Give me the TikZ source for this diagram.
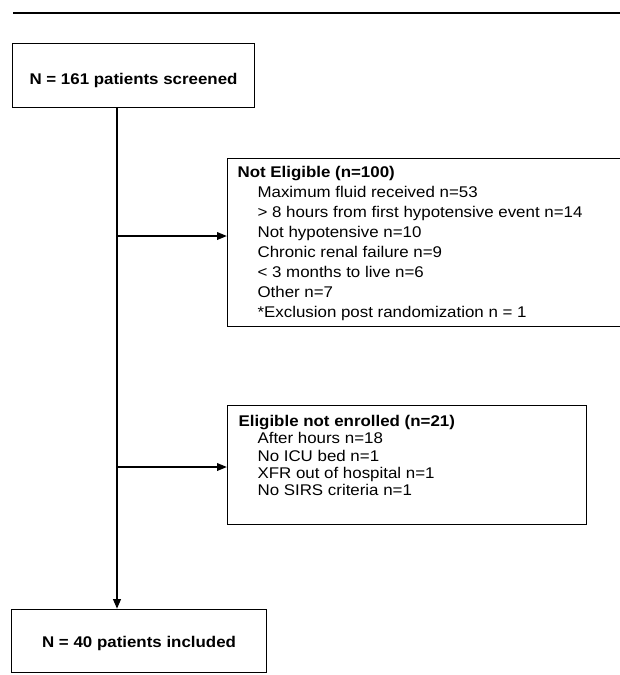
\documentclass[tikz,border=0pt]{standalone}
\usepackage{fontspec}
\setmainfont[FakeStretch=1.09]{Liberation Sans}
\usetikzlibrary{arrows.meta}
\begin{document}
\begin{tikzpicture}[x=1pt,y=-1pt,
  box/.style={draw, line width=1.1pt, inner ysep=0pt, anchor=north west},
  arr/.style={line width=2pt, -{Triangle[length=10pt,width=7.5pt]}},
  spine/.style={line width=2.4pt, -{Triangle[length=10pt,width=7.5pt]}},
  txt/.style={font=\fontsize{15.5}{20}\selectfont},
  btxt/.style={font=\bfseries\fontsize{15.5}{18}\selectfont}]
\useasboundingbox (0,0) rectangle (620,675);
\coordinate (r1) at (13,13);
\coordinate (r2) at (621,13);
\draw[line width=1.5pt] (r1) -- (r2);
\node[box, btxt, minimum width=242pt, text height=41pt, text depth=23pt, inner xsep=0pt] (b1) at (12,43) {N = 161 patients screened};
\node[box, txt, inner xsep=10pt, text height=19pt, text depth=149pt] (ne) at (227,158)
 {\parbox[t]{374pt}{\baselineskip=20pt
 \textbf{Not Eligible (n=100)}\\
 \hspace*{20pt}Maximum fluid received n=53\\
 \hspace*{20pt}> 8 hours from first hypotensive event n=14\\
 \hspace*{20pt}Not hypotensive n=10\\
 \hspace*{20pt}Chronic renal failure n=9\\
 \hspace*{20pt}< 3 months to live n=6\\
 \hspace*{20pt}Other n=7\\
 \hspace*{20pt}*Exclusion post randomization n = 1}};
\node[box, txt, inner xsep=11pt, text height=21pt, text depth=98pt] (el) at (227,405)
 {\parbox[t]{337pt}{\baselineskip=17.3pt
 \textbf{Eligible not enrolled (n=21)}\\
 \hspace*{19pt}After hours n=18\\
 \hspace*{19pt}No ICU bed n=1\\
 \hspace*{19pt}XFR out of hospital n=1\\
 \hspace*{19pt}No SIRS criteria n=1}};
\node[box, btxt, minimum width=255pt, text height=38pt, text depth=25pt, inner xsep=0pt] (b4) at (11,609) {N = 40 patients included};
\coordinate (sx) at (117,0);
\coordinate (j1) at (117,236);
\coordinate (j2) at (117,467);
\draw[spine] (b1.south -| sx) -- (b4.north -| sx);
\draw[arr] (j1) -- (j1 -| ne.west);
\draw[arr] (j2) -- (j2 -| el.west);
\end{tikzpicture}
\end{document}
